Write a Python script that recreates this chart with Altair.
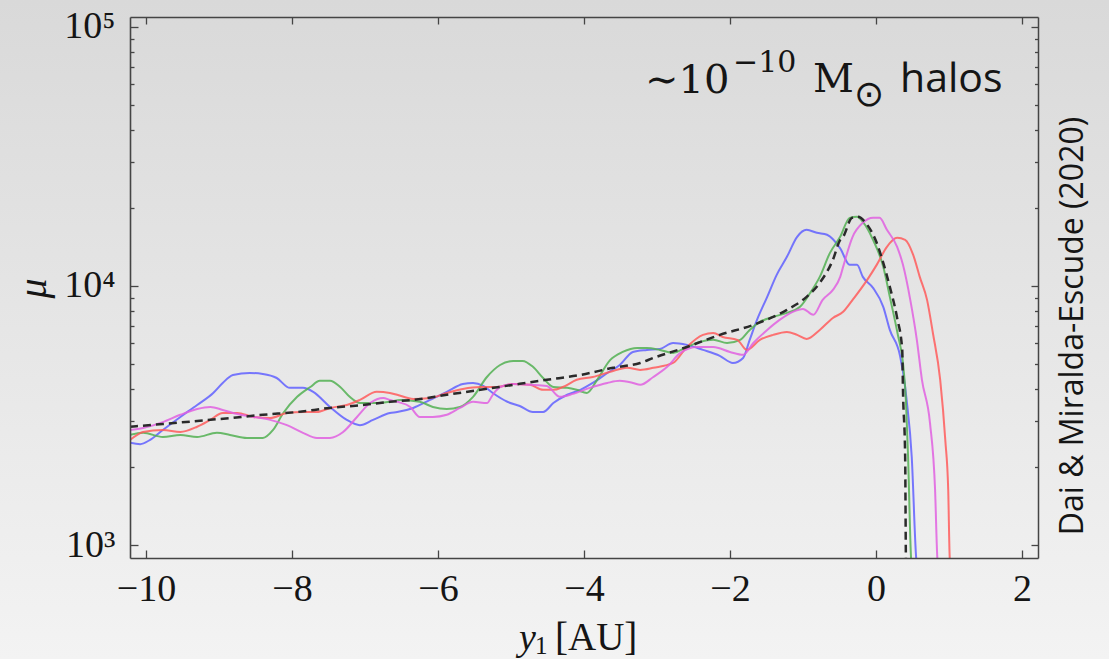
import altair as alt
import pandas as pd

# ---- data (y1 in AU, magnification mu) ----
blue_x = [-10.22,-10.08,-9.95,-9.77,-9.53,-9.30,-9.08,-8.95,-8.81,-8.58,-8.40,-8.21,-8.03,-7.85,-7.71,-7.48,-7.25,-7.07,-6.89,-6.66,-6.56,-6.34,-6.11,-5.88,-5.66,-5.52,-5.38,-5.25,-5.05,-4.88,-4.70,-4.56,-4.42,-4.23,-4.05,-3.88,-3.68,-3.51,-3.33,-3.14,-2.96,-2.78,-2.59,-2.37,-2.14,-1.96,-1.82,-1.73,-1.63,-1.49,-1.36,-1.22,-1.08,-0.95,-0.81,-0.67,-0.49,-0.36,-0.26,-0.18,-0.04,0.10,0.19,0.33,0.40,0.42,0.49,0.55,0.57]
blue_mu = [2480,2450,2540,2780,3120,3470,3860,4220,4530,4610,4570,4410,4040,4040,3900,3410,3040,2900,3040,3230,3260,3380,3630,3900,4180,4220,4110,3860,3570,3440,3260,3260,3530,3800,3970,4220,4610,4950,5560,5660,5710,6020,5920,5660,5370,5040,5270,6190,7390,9070,11030,12940,15460,16450,16020,15740,13950,12050,12050,10830,9820,8300,6760,5370,4070,3630,2190,899,780]

green_x = [-10.22,-10.04,-9.77,-9.53,-9.30,-9.03,-8.85,-8.62,-8.40,-8.26,-8.12,-7.93,-7.75,-7.62,-7.48,-7.34,-7.21,-7.07,-6.84,-6.66,-6.52,-6.25,-6.07,-5.88,-5.70,-5.52,-5.33,-5.15,-4.97,-4.84,-4.70,-4.56,-4.42,-4.23,-4.10,-3.96,-3.82,-3.64,-3.47,-3.27,-3.14,-2.96,-2.78,-2.59,-2.41,-2.23,-2.04,-1.86,-1.73,-1.59,-1.41,-1.22,-1.04,-0.90,-0.77,-0.63,-0.49,-0.36,-0.26,-0.18,-0.04,0.10,0.19,0.30,0.37,0.41,0.44,0.48,0.50]
green_mu = [2660,2710,2610,2660,2610,2710,2660,2590,2590,2780,3230,3730,4070,4300,4300,4070,3730,3530,3530,3570,3630,3570,3410,3350,3410,3730,4450,4950,5130,5130,4870,4410,4070,4040,3970,3860,4340,5180,5560,5760,5760,5660,5510,5810,6080,6190,6020,6190,6760,7260,7590,7870,8300,9400,10830,13410,15460,18300,18470,17660,15050,11840,9070,6470,5040,3630,2190,899,780]

red_x = [-10.22,-10.04,-9.77,-9.53,-9.30,-9.12,-8.95,-8.75,-8.53,-8.30,-8.07,-7.85,-7.66,-7.48,-7.25,-7.07,-6.84,-6.66,-6.56,-6.34,-6.11,-5.88,-5.66,-5.42,-5.19,-4.97,-4.74,-4.56,-4.42,-4.29,-4.10,-3.88,-3.64,-3.41,-3.23,-3.05,-2.78,-2.59,-2.37,-2.23,-2.10,-1.90,-1.77,-1.59,-1.41,-1.22,-1.08,-0.95,-0.77,-0.59,-0.45,-0.32,-0.12,0.01,0.15,0.29,0.40,0.51,0.60,0.70,0.78,0.88,0.95,0.99,1.01,1.03]
red_mu = [2540,2730,2780,2730,2860,3040,3230,3230,3120,3090,3230,3260,3260,3380,3470,3630,3900,3860,3800,3660,3690,3860,4000,4070,4070,4180,4150,3970,3970,4070,4340,4450,4660,4830,4740,4830,5040,5810,6470,6580,6350,6190,5660,6190,6470,6640,6470,6240,6760,7520,7940,8830,10550,12050,14150,15320,15050,13170,10830,8830,6580,4340,2540,1630,899,780]

magenta_x = [-10.22,-10.04,-9.77,-9.53,-9.30,-9.12,-8.95,-8.75,-8.53,-8.30,-8.07,-7.85,-7.66,-7.48,-7.30,-7.11,-6.93,-6.75,-6.66,-6.56,-6.38,-6.25,-6.07,-5.88,-5.70,-5.52,-5.33,-5.25,-5.15,-4.97,-4.74,-4.51,-4.33,-4.15,-3.92,-3.68,-3.51,-3.33,-3.23,-3.05,-2.86,-2.68,-2.45,-2.23,-2.00,-1.82,-1.68,-1.49,-1.32,-1.14,-1.00,-0.86,-0.73,-0.59,-0.49,-0.45,-0.32,-0.18,-0.04,0.05,0.15,0.29,0.37,0.47,0.56,0.63,0.74,0.81,0.84,0.86]
magenta_mu = [2780,2830,2980,3180,3350,3410,3320,3200,3120,3040,2900,2710,2590,2590,2730,3120,3530,3690,3630,3570,3410,3120,3120,3180,3380,3570,3530,3800,4070,4180,4150,4110,3730,3830,4040,4220,4300,4220,4150,4450,4870,5510,5810,5810,5560,5420,6020,6760,7390,7940,8150,7730,8830,9650,10830,11840,15460,17510,18300,18300,16450,14150,12050,8830,6190,4340,2960,1630,899,780]

model_x = [-10.22,-9.77,-9.30,-8.85,-8.40,-7.93,-7.48,-7.03,-6.66,-6.34,-5.88,-5.42,-4.97,-4.51,-4.05,-3.60,-3.23,-3.05,-2.59,-2.14,-1.68,-1.22,-0.95,-0.77,-0.59,-0.49,-0.45,-0.33,-0.25,-0.12,0.01,0.10,0.19,0.29,0.36,0.37,0.40,0.41,0.415]
model_mu = [2860,2930,3010,3090,3180,3260,3380,3470,3570,3630,3800,3970,4150,4340,4530,4830,5040,5270,5810,6470,7070,8080,9070,10270,12600,15050,15460,18300,18470,17200,14660,12270,9910,7520,5660,3970,2190,899,780]

series_names = ["blue", "green", "red", "magenta"]
series_colors = ["#6060ff", "#52b052", "#ff5c5c", "#e060e0"]

x_ticks = [-10, -8, -6, -4, -2, 0, 2]
y_major = [1000, 10000, 100000]
y_minor = [2000, 3000, 4000, 5000, 6000, 7000, 8000, 9000,
           20000, 30000, 40000, 50000, 60000, 70000, 80000, 90000]

rows = []
for name, xs_, ms in [("blue", blue_x, blue_mu), ("green", green_x, green_mu),
                      ("red", red_x, red_mu), ("magenta", magenta_x, magenta_mu)]:
    for a, b in zip(xs_, ms):
        rows.append({"series": name, "y1": a, "mu": b})
df = pd.DataFrame(rows)
dfm = pd.DataFrame({"y1": model_x, "mu": model_mu})

W, H = 908, 541
PL, PT = 130, 17
PR, PB = 1109 - PL - W, 659 - PT - H

xs = alt.Scale(domain=[-10.22, 2.22], nice=False, zero=False)
ys = alt.Scale(type="log", domain=[891, 109000], nice=False)

SERIF = "Liberation Serif"
INK = "#151515"
FRAME = "#454545"

bg = alt.Chart(alt.Data(values=[{"a": 1}])).mark_rect(
    fill=alt.LinearGradient(gradient="linear",
                            stops=[alt.GradientStop(color="#d9d9d9", offset=0),
                                   alt.GradientStop(color="#f3f3f3", offset=1)],
                            x1=0, x2=0, y1=0, y2=1)
).encode(x=alt.value(-PL), x2=alt.value(W + PR), y=alt.value(-PT), y2=alt.value(H + PB))

lines = alt.Chart(df).mark_line(strokeWidth=2, opacity=0.85, clip=True, interpolate="monotone").encode(
    x=alt.X("y1:Q", scale=xs, axis=alt.Axis(
        values=x_ticks, ticks=False, grid=False, domain=True, domainColor=FRAME,
        domainWidth=1.6, labelFont=SERIF, labelFontSize=38, labelColor=INK,
        labelPadding=12, labelFlush=False, labelOverlap=False,
        title=None, zindex=1)),
    y=alt.Y("mu:Q", scale=ys, axis=alt.Axis(
        values=y_major, ticks=False, grid=False, domain=True, domainColor=FRAME,
        domainWidth=1.6, labelFont=SERIF, labelFontSize=38, labelColor=INK,
        labelPadding=15, labelOverlap=False, labelBaseline="middle",
        labelExpr="datum.value == 1000 ? '10³' : (datum.value == 10000 ? '10⁴' : '10⁵')",
        title="μ", titleFont=SERIF, titleFontSize=40, titleFontStyle="italic",
        titleFontWeight="normal", titleColor=INK, titleX=-97, titleY=271,
        titleAngle=270, titleAlign="center", titleBaseline="middle", zindex=1)),
    color=alt.Color("series:N", scale=alt.Scale(domain=series_names, range=series_colors), legend=None),
    detail="series:N",
)

dashed = alt.Chart(dfm).mark_line(strokeWidth=2.5, color="#2a2a2a", strokeDash=[8, 5], clip=True,
                                  interpolate="monotone").encode(
    x=alt.X("y1:Q", scale=xs, axis=None),
    y=alt.Y("mu:Q", scale=ys, axis=None),
)


def tick_layer(x_axis, y_axis):
    return alt.Chart(dfm).mark_line(strokeOpacity=0).encode(
        x=alt.X("y1:Q", scale=xs, axis=x_axis),
        y=alt.Y("mu:Q", scale=ys, axis=y_axis),
    )


def tax(orient, offset, values, size, domain=False):
    return alt.Axis(orient=orient, offset=offset, values=values, tickSize=size,
                    tickColor=FRAME, tickWidth=1.3, labels=False, grid=False,
                    domain=domain, domainColor=FRAME, domainWidth=1.5, title=None, zindex=1)


t1 = tick_layer(tax("top", -H, x_ticks, 8), tax("right", -W, y_major, 8))
t2 = tick_layer(tax("bottom", -H, x_ticks, 7, True), tax("left", -W, y_major, 7, True))
t3 = tick_layer(None, tax("right", -W, y_minor, 4))
t4 = tick_layer(None, tax("left", -W, y_minor, 3.5))


def txt(s, x, y, font, size, align="left", baseline="alphabetic", angle=0, style="normal"):
    kw = dict(font=font, fontSize=size, align=align, baseline=baseline, color=INK, fontStyle=style)
    if angle:
        kw["angle"] = angle
    return alt.Chart(alt.Data(values=[{"t": s}])).mark_text(**kw).encode(
        x=alt.value(x), y=alt.value(y), text="t:N")


texts = [
    # x-axis title: y_1 [AU]
    txt("y", 519 - PL, 650 - PT, SERIF, 38, style="italic"),
    txt("1", 535 - PL, 654 - PT, SERIF, 25),
    txt("[AU]", 555 - PL, 650 - PT, SERIF, 39),
    # annotation
    txt("∼10", 645 - PL, 93 - PT, "DejaVu Serif", 40),
    txt("−10", 733 - PL, 72 - PT, "DejaVu Serif", 30),
    txt("M", 813 - PL, 92 - PT, "DejaVu Serif", 40),
    txt("⊙", 869 - PL, 106 - PT, "DejaVu Sans", 36, align="center"),
    txt("halos", 900 - PL, 92 - PT, "Open Sans", 41),
    txt("Dai & Miralda-Escude (2020)", 1083 - PL, 326 - PT, "Open Sans", 32,
        align="center", angle=270),
]

chart = alt.layer(bg, lines, dashed, t1, t2, t3, t4, *texts).properties(
    width=W, height=H,
    padding={"left": PL, "top": PT, "right": PR, "bottom": PB},
    autosize=alt.AutoSizeParams(type="none"),
    background="#e6e6e6",
).resolve_axis(x="independent", y="independent").configure_view(stroke=None)

chart.save("out.html", embed_options={"renderer": "svg", "actions": False})
